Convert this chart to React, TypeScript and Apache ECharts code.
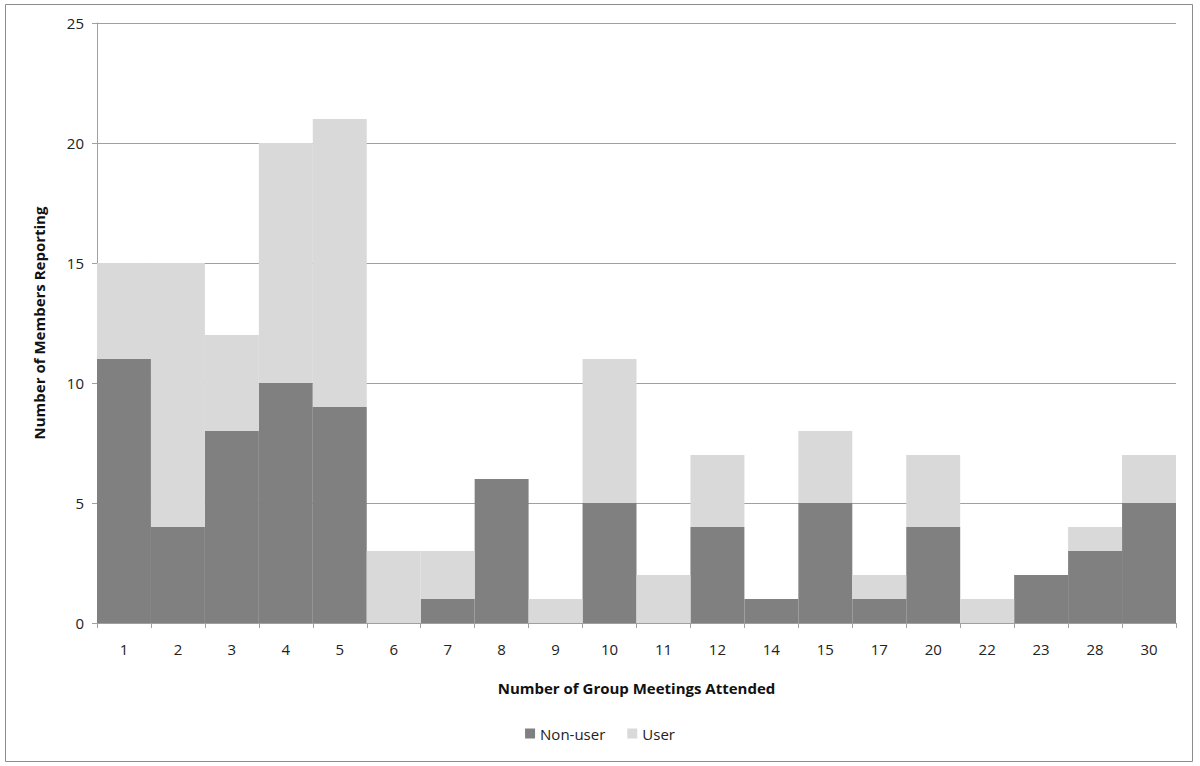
import React, { useEffect, useRef } from "react";
import * as echarts from "echarts";

const categories = ["1", "2", "3", "4", "5", "6", "7", "8", "9", "10", "11", "12", "14", "15", "17", "20", "22", "23", "28", "30"];
const nonUser = [11, 4, 8, 10, 9, 0, 1, 6, 0, 5, 0, 4, 1, 5, 1, 4, 0, 2, 3, 5];
const user = [4, 11, 4, 10, 12, 3, 2, 0, 1, 6, 2, 3, 0, 3, 1, 3, 1, 0, 1, 2];
const yTicks = { min: 0, max: 25, interval: 5 };

const FONT = "'Open Sans', 'Liberation Sans', sans-serif";

export default function App() {
  const ref = useRef<HTMLDivElement>(null);
  useEffect(() => {
    if (!ref.current) return;
    const chart = echarts.init(ref.current, undefined, { renderer: "svg" });
    chart.setOption({
      animation: false,
      backgroundColor: "#ffffff",
      graphic: [
        {
          type: "rect",
          shape: { x: 5.5, y: 4.5, width: 1187, height: 757 },
          style: { fill: "none", stroke: "#8c8c8c", lineWidth: 1 },
          silent: true,
        },
      ],
      grid: { left: 97, top: 23, width: 1079, height: 600, containLabel: false },
      legend: {
        bottom: 20,
        left: "center",
        itemWidth: 10,
        itemHeight: 10,
        itemGap: 22,
        icon: "rect",
        textStyle: { fontFamily: FONT, fontSize: 15, color: "#222" },
        data: ["Non-user", "User"],
      },
      xAxis: {
        type: "category",
        data: categories,
        boundaryGap: true,
        name: "Number of Group Meetings Attended",
        nameLocation: "middle",
        nameGap: 57,
        nameTextStyle: { fontFamily: FONT, fontSize: 15, fontWeight: "bold", color: "#111" },
        axisLine: { lineStyle: { color: "#a0a0a0", width: 1 } },
        axisTick: { show: true, length: 5, alignWithLabel: false, lineStyle: { color: "#a0a0a0" } },
        axisLabel: { fontFamily: FONT, fontSize: 15, color: "#222", margin: 18, interval: 0 },
      },
      yAxis: {
        type: "value",
        min: yTicks.min,
        max: yTicks.max,
        interval: yTicks.interval,
        name: "Number of Members Reporting",
        nameLocation: "middle",
        nameGap: 51,
        nameTextStyle: { fontFamily: FONT, fontSize: 15, fontWeight: "bold", color: "#111" },
        axisLine: { show: true, lineStyle: { color: "#a0a0a0", width: 1 } },
        axisTick: { show: true, length: 5, lineStyle: { color: "#a0a0a0" } },
        axisLabel: { fontFamily: FONT, fontSize: 15, color: "#222", margin: 13 },
        splitLine: { show: true, lineStyle: { color: "#a0a0a0", width: 1 } },
      },
      series: [
        {
          name: "Non-user",
          type: "bar",
          stack: "total",
          data: nonUser,
          barCategoryGap: "0%",
          itemStyle: { color: "#808080" },
        },
        {
          name: "User",
          type: "bar",
          stack: "total",
          data: user,
          barCategoryGap: "0%",
          itemStyle: { color: "#d9d9d9" },
        },
      ],
    });
    return () => chart.dispose();
  }, []);
  return (
    <div
      ref={ref}
      style={{ position: "fixed", left: 0, top: 0, width: 1200, height: 766, background: "#fff" }}
    />
  );
}
